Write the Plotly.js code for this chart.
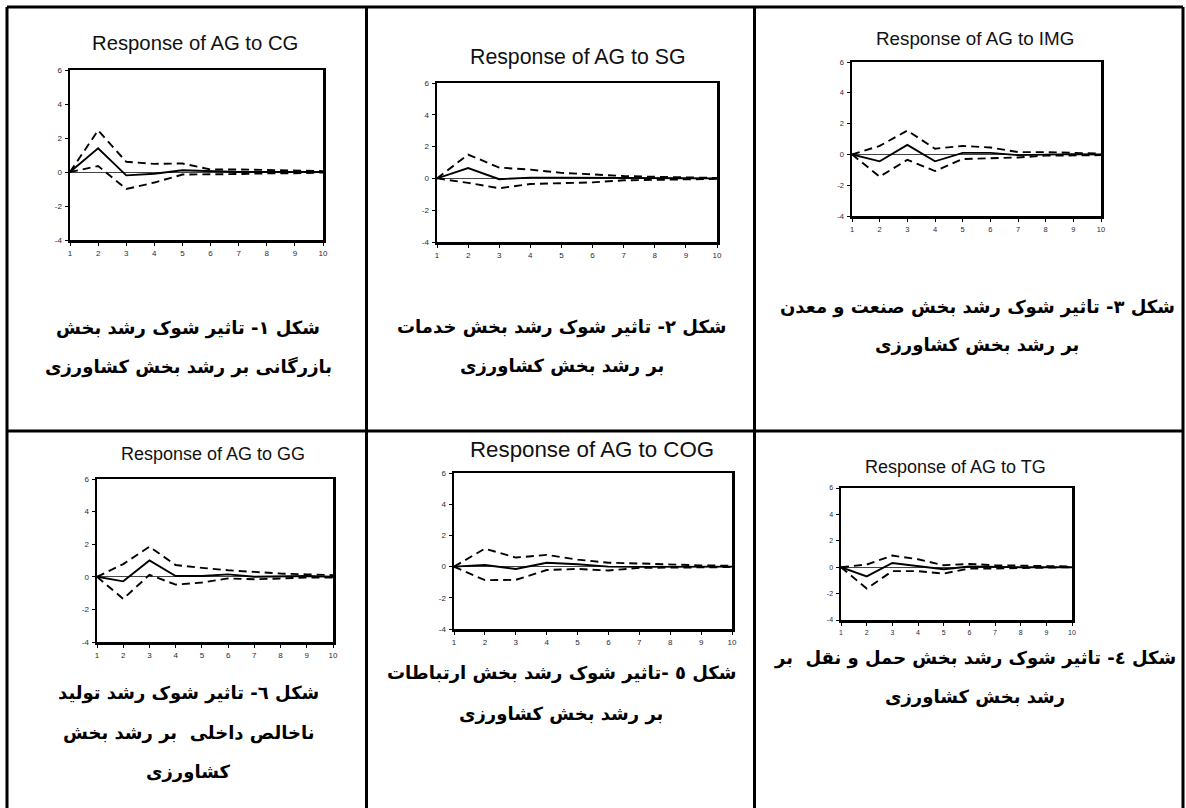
<!DOCTYPE html>
<html>
<head>
<meta charset="utf-8">
<script src="https://cdn.plot.ly/plotly-3.0.1.min.js"></script>
<style>
html,body{margin:0;padding:0;background:#fff;}
#chart{width:1186px;height:808px;}
</style>
</head>
<body>
<div id="chart"></div>
<script>
// ---------- DATA ----------
const periods = [1, 2, 3, 4, 5, 6, 7, 8, 9, 10];
const yTicks = [-4, -2, 0, 2, 4, 6];

const chartTitles = [
  "Response of AG to CG",
  "Response of AG to SG",
  "Response of AG to IMG",
  "Response of AG to GG",
  "Response of AG to COG",
  "Response of AG to TG"
];

// Response (solid) and +/- 2 S.E. bands (dashed)
const cgResp  = [0, 1.40, -0.20, -0.10, 0.10, 0.05, 0.00, 0.00, 0.02, 0.00];
const cgUpper = [0, 2.45, 0.60, 0.48, 0.50, 0.15, 0.15, 0.12, 0.10, 0.05];
const cgLower = [0, 0.35, -1.00, -0.62, -0.15, -0.15, -0.12, -0.08, -0.08, -0.03];

const sgResp  = [0, 0.65, -0.05, 0.05, 0.05, 0.03, 0.02, 0.01, 0.01, 0.00];
const sgUpper = [0, 1.50, 0.68, 0.55, 0.35, 0.25, 0.15, 0.10, 0.05, 0.03];
const sgLower = [0, -0.28, -0.62, -0.35, -0.30, -0.25, -0.12, -0.08, -0.05, -0.03];

const imgResp  = [0, -0.45, 0.62, -0.45, 0.10, 0.10, -0.05, -0.02, 0.02, -0.01];
const imgUpper = [0, 0.55, 1.55, 0.37, 0.55, 0.45, 0.15, 0.15, 0.10, 0.05];
const imgLower = [0, -1.45, -0.35, -1.08, -0.30, -0.25, -0.20, -0.08, -0.05, -0.05];

const ggResp  = [0, -0.28, 1.00, 0.05, 0.05, 0.15, 0.00, 0.02, 0.05, 0.00];
const ggUpper = [0, 0.78, 1.85, 0.72, 0.55, 0.40, 0.30, 0.20, 0.15, 0.10];
const ggLower = [0, -1.35, 0.12, -0.48, -0.35, -0.10, -0.15, -0.10, -0.05, -0.05];

const cogResp  = [0, 0.10, -0.15, 0.25, 0.15, 0.00, -0.02, -0.02, 0.00, 0.00];
const cogUpper = [0, 1.15, 0.58, 0.75, 0.45, 0.25, 0.20, 0.12, 0.08, 0.05];
const cogLower = [0, -0.87, -0.85, -0.22, -0.15, -0.25, -0.08, -0.08, -0.05, -0.03];

const tgResp  = [0, -0.70, 0.32, 0.10, -0.15, 0.05, 0.00, 0.00, 0.00, 0.00];
const tgUpper = [0, 0.20, 0.88, 0.60, 0.15, 0.25, 0.15, 0.10, 0.05, 0.05];
const tgLower = [0, -1.62, -0.30, -0.30, -0.48, -0.10, -0.10, -0.05, -0.02, 0.00];

const captions = [
  ["شکل ۱- تاثیر شوک رشد بخش", "بازرگانی بر رشد بخش کشاورزی"],
  ["شکل ۲- تاثیر شوک رشد بخش خدمات", "بر رشد بخش کشاورزی"],
  ["شکل ۳- تاثیر شوک رشد بخش صنعت و معدن", "بر رشد بخش کشاورزی"],
  ["شکل ٦- تاثیر شوک رشد تولید", "ناخالص داخلی  بر رشد بخش", "کشاورزی"],
  ["شکل ٥ -تاثیر شوک رشد بخش ارتباطات", "بر رشد بخش کشاورزی"],
  ["شکل ٤- تاثیر شوک رشد بخش حمل و نقل  بر", "رشد بخش کشاورزی"]
];

const seriesSets = [
  [cgResp, cgUpper, cgLower],
  [sgResp, sgUpper, sgLower],
  [imgResp, imgUpper, imgLower],
  [ggResp, ggUpper, ggLower],
  [cogResp, cogUpper, cogLower],
  [tgResp, tgUpper, tgLower]
];

// ---------- LAYOUT (pixel geometry) ----------
const W = 1186, H = 808;
const px = v => v / W;
const py = v => 1 - v / H;

// plot boxes: [left, right, top, bottom] in pixels
const boxes = [
  [70, 323, 70, 240],
  [437, 717, 83, 242],
  [852, 1101, 62, 216],
  [97, 333, 479, 642],
  [454, 732, 473, 629],
  [841, 1072, 488, 620]
];
// titles: [centerX, centerY, fontSize]
const titlePos = [
  [195, 43, 20.3],
  [577, 57, 21.3],
  [975, 38, 18.8],
  [213, 454, 18],
  [592, 449, 22.3],
  [955, 467, 18]
];
const tickSize = [8, 8, 7.5, 8, 8, 7];
// caption lines: [centerX, [y of each line]]
const captionPos = [
  [188, [328, 367]],
  [562, [327, 366]],
  [977, [307, 345]],
  [188, [693, 733, 772]],
  [561, [673, 714]],
  [975, [658, 697]]
];

const traces = [];
const layout = {
  width: W, height: H,
  margin: {l: 0, r: 0, t: 0, b: 0},
  paper_bgcolor: "#ffffff",
  plot_bgcolor: "#ffffff",
  showlegend: false,
  annotations: [],
  shapes: []
};

seriesSets.forEach((set, i) => {
  const n = i + 1;
  const xa = n === 1 ? "x" : "x" + n;
  const ya = n === 1 ? "y" : "y" + n;
  const [resp, up, lo] = set;
  traces.push({x: periods, y: up, xaxis: xa, yaxis: ya, mode: "lines",
    line: {color: "#000", width: 1.9, dash: "8px,5px"}, hoverinfo: "skip"});
  traces.push({x: periods, y: lo, xaxis: xa, yaxis: ya, mode: "lines",
    line: {color: "#000", width: 1.9, dash: "8px,5px"}, hoverinfo: "skip"});
  traces.push({x: periods, y: resp, xaxis: xa, yaxis: ya, mode: "lines",
    line: {color: "#000", width: 1.9}, hoverinfo: "skip"});

  const b = boxes[i];
  const axBase = {
    showgrid: false, mirror: true, showline: true, linecolor: "#000", linewidth: 2.5,
    ticks: "outside", ticklen: 3, tickwidth: 1, tickcolor: "#000",
    tickfont: {family: "Liberation Sans, Arial, sans-serif", size: tickSize[i], color: "#2a2a3a"}
  };
  layout["xaxis" + (n === 1 ? "" : n)] = Object.assign({}, axBase, {
    domain: [px(b[0]), px(b[1])], anchor: ya, range: [1, 10],
    tickvals: periods, ticktext: periods.map(String), zeroline: false, ticklabelstandoff: 1
  });
  layout["yaxis" + (n === 1 ? "" : n)] = Object.assign({}, axBase, {
    domain: [py(b[3]), py(b[2])], anchor: xa, range: [-4, 6],
    tickvals: yTicks, ticktext: yTicks.map(String),
    zeroline: true, zerolinecolor: "#444", zerolinewidth: 1, ticklabelstandoff: 1
  });

  const t = titlePos[i];
  layout.annotations.push({
    text: chartTitles[i], xref: "paper", yref: "paper",
    x: px(t[0]), y: py(t[1]), xanchor: "center", yanchor: "middle", showarrow: false,
    font: {family: "Liberation Sans, Arial, sans-serif", size: t[2], color: "#111"}
  });

  const c = captionPos[i];
  captions[i].forEach((line, k) => {
    layout.annotations.push({
      text: "<b>" + line + "</b>", xref: "paper", yref: "paper",
      x: px(c[0]), y: py(c[1][k]), xanchor: "center", yanchor: "middle", showarrow: false,
      font: {family: "DejaVu Sans, sans-serif", size: 18, color: "#000"}
    });
  });
});

// table grid lines
const lineStyle = {color: "#000", width: 3};
const tableLines = [
  [7, 7, 7, 820],        // left border
  [1183, 7, 1183, 820],  // right border
  [366.5, 7, 366.5, 820],
  [754.5, 7, 754.5, 820],
  [7, 7, 1183, 7],       // top border
  [7, 431, 1183, 431]    // middle row divider
];
tableLines.forEach(l => {
  layout.shapes.push({type: "line", xref: "paper", yref: "paper",
    x0: px(l[0]), y0: py(l[1]), x1: px(l[2]), y1: py(l[3]), line: lineStyle});
});

Plotly.newPlot("chart", traces, layout, {staticPlot: true, displayModeBar: false});
</script>
</body>
</html>
